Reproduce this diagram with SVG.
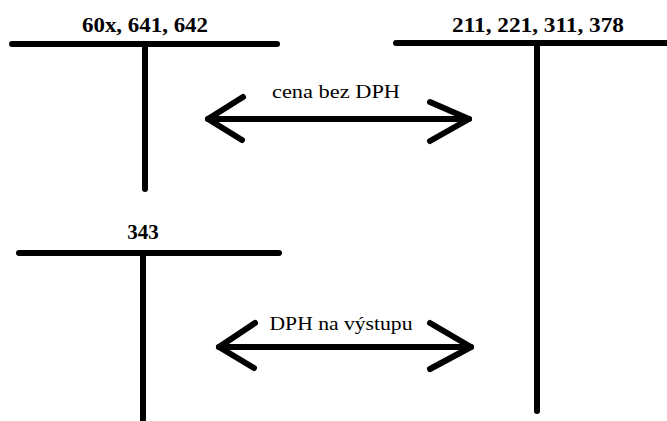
<svg xmlns="http://www.w3.org/2000/svg" width="667" height="421" viewBox="0 0 667 421">
<style>
.ln{stroke:#000;stroke-width:6;stroke-linecap:round;fill:none;stroke-linejoin:round}
.t{font-family:"Liberation Serif","Times New Roman",serif;fill:#000;text-anchor:middle}
.b{font-weight:bold;font-size:21px}
.r{font-size:19px}
</style>
<rect width="667" height="421" fill="#fff"/>
<g id="account-60x">
<text class="t b" x="145" y="32" textLength="126" lengthAdjust="spacingAndGlyphs">60x, 641, 642</text>
<line class="ln" x1="12" y1="44" x2="277" y2="44"/>
<line class="ln" x1="145" y1="44" x2="145" y2="189"/>
</g>
<g id="account-211">
<text class="t b" x="538" y="32" textLength="172" lengthAdjust="spacingAndGlyphs">211, 221, 311, 378</text>
<line class="ln" x1="396" y1="43" x2="670" y2="43"/>
<line class="ln" x1="537" y1="43" x2="537" y2="411"/>
</g>
<g id="account-343">
<text class="t b" x="143" y="239">343</text>
<line class="ln" x1="19" y1="253" x2="279" y2="253"/>
<line class="ln" x1="143" y1="253" x2="143" y2="425"/>
</g>
<g id="connectors">
<g id="arrow-cena">
<line class="ln" x1="208" y1="119" x2="469" y2="119"/>
<polyline class="ln" points="243,97 208,119 242,140"/>
<polyline class="ln" points="430,102 469,119 430,141"/>
<text class="t r" x="336" y="98" textLength="128" lengthAdjust="spacingAndGlyphs">cena bez DPH</text>
</g>
<g id="arrow-dph">
<line class="ln" x1="219" y1="347" x2="471" y2="347"/>
<polyline class="ln" points="255,323 219,347 254,368"/>
<polyline class="ln" points="430,323 471,347 430,369"/>
<text class="t r" x="341" y="330" textLength="143" lengthAdjust="spacingAndGlyphs">DPH na výstupu</text>
</g>
</g>
</svg>
